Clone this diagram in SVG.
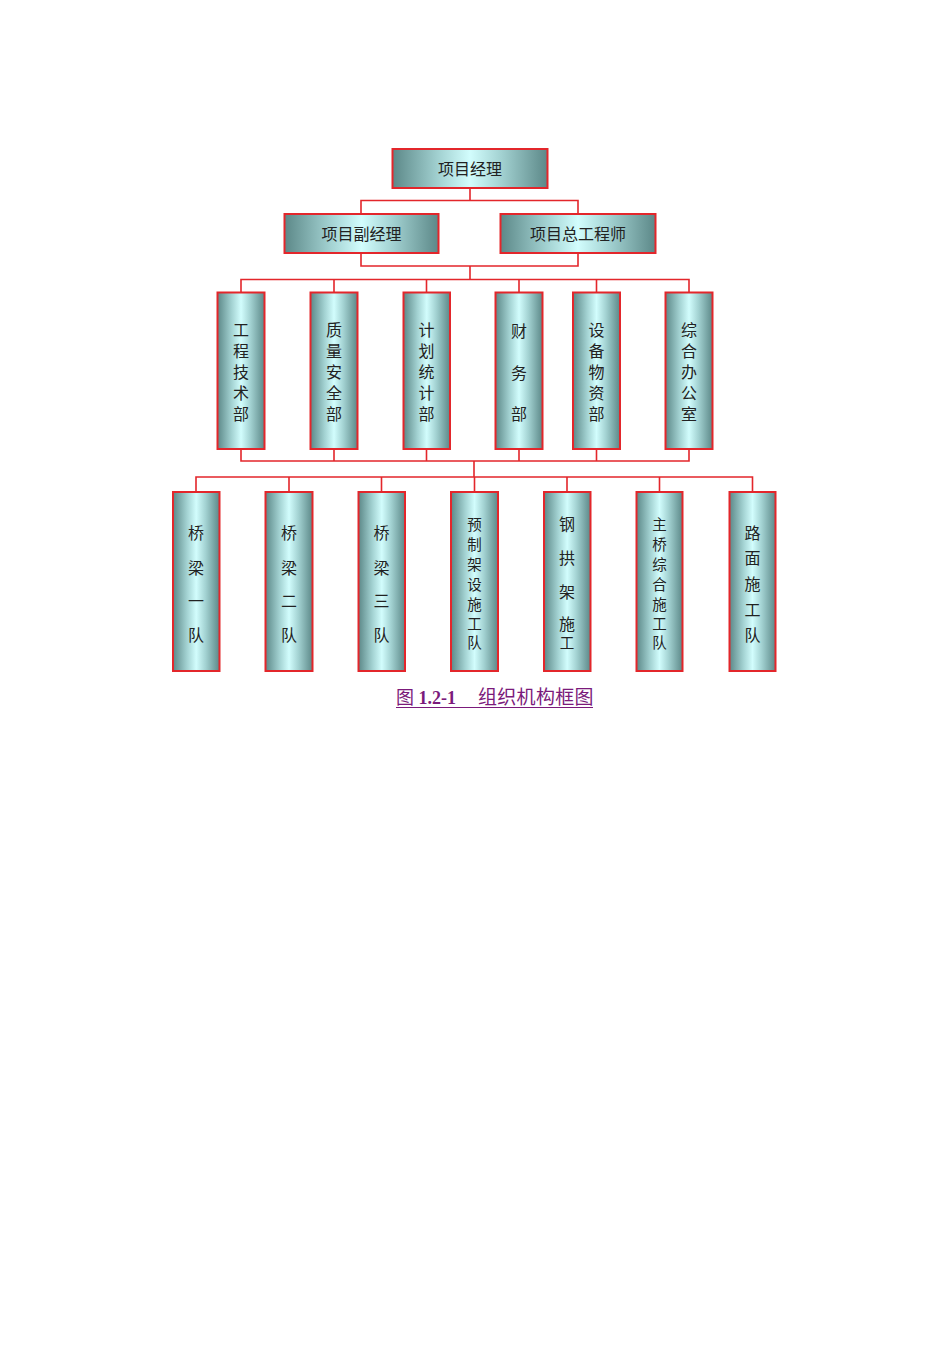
<svg xmlns="http://www.w3.org/2000/svg" width="950" height="1345" viewBox="0 0 950 1345">
<defs>
<linearGradient id="g" x1="0" y1="0" x2="1" y2="0">
<stop offset="0" stop-color="#5c8888"/>
<stop offset="0.3" stop-color="#a3d2d2"/>
<stop offset="0.5" stop-color="#d2fdfd"/>
<stop offset="0.7" stop-color="#a3d2d2"/>
<stop offset="1" stop-color="#5c8888"/>
</linearGradient>
<style>
.b{fill:url(#g);stroke:#e3262b;stroke-width:2}
.t{font-family:"Noto Sans CJK SC","Liberation Serif",serif;font-size:16px;fill:#222;text-anchor:middle;dominant-baseline:central}
.s{font-size:14.5px}
.c{fill:none;stroke:#e3262b;stroke-width:1.6}
</style>
</defs>
<rect width="950" height="1345" fill="#fff"/>
<g id="connectors">
<path class="c" d="M470 188V200.5M361 214V200.5H578V214"/>
<path class="c" d="M361 253V266H578V253M470 266V279.5"/>
<path class="c" d="M241 292V279.5H689V292M334 279.5V292M426.5 279.5V292M519 279.5V292M596.5 279.5V292"/>
<path class="c" d="M241 449V461H689V449M334 449V461M426.5 449V461M519 449V461M596.5 449V461M474 461V477"/>
<path class="c" d="M196 492V477H752.5V492M289 477V492M381.5 477V492M474.5 477V492M567 477V492M659.5 477V492"/>
</g>
<g id="n_pm"><rect class="b" x="392.5" y="149" width="155" height="39"/><text class="t" x="470" y="168">项目经理</text></g>
<g id="n_dpm"><rect class="b" x="284.5" y="214" width="154" height="39"/><text class="t" x="361.5" y="233">项目副经理</text></g>
<g id="n_ce"><rect class="b" x="500.5" y="214" width="155" height="39"/><text class="t" x="578" y="233">项目总工程师</text></g>

<g id="n_d1"><rect class="b" x="217.5" y="292.5" width="47" height="156.5"/><text class="t" x="241"><tspan x="241" y="329">工</tspan><tspan x="241" y="350">程</tspan><tspan x="241" y="371">技</tspan><tspan x="241" y="392">术</tspan><tspan x="241" y="413">部</tspan></text></g>
<g id="n_d2"><rect class="b" x="310.5" y="292.5" width="47" height="156.5"/><text class="t" x="334"><tspan x="334" y="329">质</tspan><tspan x="334" y="350">量</tspan><tspan x="334" y="371">安</tspan><tspan x="334" y="392">全</tspan><tspan x="334" y="413">部</tspan></text></g>
<g id="n_d3"><rect class="b" x="403.5" y="292.5" width="46.5" height="156.5"/><text class="t" x="426.5"><tspan x="426.5" y="329">计</tspan><tspan x="426.5" y="350">划</tspan><tspan x="426.5" y="371">统</tspan><tspan x="426.5" y="392">计</tspan><tspan x="426.5" y="413">部</tspan></text></g>
<g id="n_d4"><rect class="b" x="495.5" y="292.5" width="47" height="156.5"/><text class="t" x="519"><tspan x="519" y="330">财</tspan><tspan x="519" y="372">务</tspan><tspan x="519" y="413">部</tspan></text></g>
<g id="n_d5"><rect class="b" x="573" y="292.5" width="47" height="156.5"/><text class="t" x="596.5"><tspan x="596.5" y="329">设</tspan><tspan x="596.5" y="350">备</tspan><tspan x="596.5" y="371">物</tspan><tspan x="596.5" y="392">资</tspan><tspan x="596.5" y="413">部</tspan></text></g>
<g id="n_d6"><rect class="b" x="665.5" y="292.5" width="47" height="156.5"/><text class="t" x="689"><tspan x="689" y="329">综</tspan><tspan x="689" y="350">合</tspan><tspan x="689" y="371">办</tspan><tspan x="689" y="392">公</tspan><tspan x="689" y="413">室</tspan></text></g>

<g id="n_t1"><rect class="b" x="173" y="492" width="46.5" height="179"/><text class="t"><tspan x="196" y="532">桥</tspan><tspan x="196" y="567">梁</tspan><tspan x="196" y="600">一</tspan><tspan x="196" y="634">队</tspan></text></g>
<g id="n_t2"><rect class="b" x="265.5" y="492" width="47" height="179"/><text class="t"><tspan x="289" y="532">桥</tspan><tspan x="289" y="567">梁</tspan><tspan x="289" y="600">二</tspan><tspan x="289" y="634">队</tspan></text></g>
<g id="n_t3"><rect class="b" x="358.5" y="492" width="46.5" height="179"/><text class="t"><tspan x="381.5" y="532">桥</tspan><tspan x="381.5" y="567">梁</tspan><tspan x="381.5" y="600">三</tspan><tspan x="381.5" y="634">队</tspan></text></g>
<g id="n_t4"><rect class="b" x="451" y="492" width="47" height="179"/><text class="t s"><tspan x="474.5" y="523">预</tspan><tspan x="474.5" y="543">制</tspan><tspan x="474.5" y="563">架</tspan><tspan x="474.5" y="583">设</tspan><tspan x="474.5" y="603">施</tspan><tspan x="474.5" y="622">工</tspan><tspan x="474.5" y="641">队</tspan></text></g>
<g id="n_t5"><rect class="b" x="544" y="492" width="46.5" height="179"/><text class="t"><tspan x="567" y="523">钢</tspan><tspan x="567" y="557">拱</tspan><tspan x="567" y="591">架</tspan><tspan x="567" y="623">施</tspan><tspan class="s" x="567" y="641">工</tspan></text></g>
<g id="n_t6"><rect class="b" x="636.5" y="492" width="46" height="179"/><text class="t s"><tspan x="659.5" y="523">主</tspan><tspan x="659.5" y="543">桥</tspan><tspan x="659.5" y="563">综</tspan><tspan x="659.5" y="583">合</tspan><tspan x="659.5" y="603">施</tspan><tspan x="659.5" y="622">工</tspan><tspan x="659.5" y="641">队</tspan></text></g>
<g id="n_t7"><rect class="b" x="729.5" y="492" width="46" height="179"/><text class="t"><tspan x="752.5" y="532">路</tspan><tspan x="752.5" y="557">面</tspan><tspan x="752.5" y="583">施</tspan><tspan x="752.5" y="609">工</tspan><tspan x="752.5" y="634">队</tspan></text></g>

<g id="caption">
<text x="396" y="704" font-family="'Liberation Serif','Noto Sans CJK SC',serif" font-size="18" fill="#7b1a7b">图 <tspan font-weight="bold">1.2-1</tspan><tspan x="478" font-size="19" letter-spacing="0.3">组织机构框图</tspan></text>
<line x1="396" y1="707.5" x2="593" y2="707.5" stroke="#7b1a7b" stroke-width="1.2"/>
</g>
</svg>
